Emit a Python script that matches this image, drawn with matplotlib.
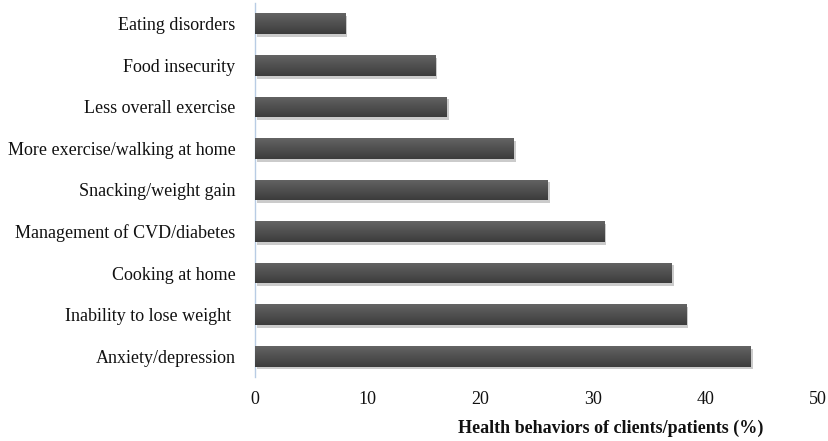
import matplotlib
matplotlib.use("Agg")
import matplotlib.pyplot as plt
import matplotlib.patheffects as pe
from matplotlib.colors import LinearSegmentedColormap
import numpy as np

categories = [
    "Eating disorders",
    "Food insecurity",
    "Less overall exercise",
    "More exercise/walking at home",
    "Snacking/weight gain",
    "Management of CVD/diabetes",
    "Cooking at home",
    "Inability to lose weight ",
    "Anxiety/depression",
]
percentages = [8, 16, 17, 23, 26, 31, 37, 38.3, 44]
x_ticks = [0, 10, 20, 30, 40, 50]

plt.rcParams["font.family"] = ["Liberation Serif", "DejaVu Serif"]

fig = plt.figure(figsize=(8.29, 4.41), dpi=100)
ax = fig.add_axes([255 / 829, 1 - 377 / 441, (818 - 255) / 829, 374 / 441])

ypos = list(range(len(categories)))
bars = ax.barh(ypos, percentages, height=0.5, color="#4a4a4a", zorder=2)

# soft shading like the office-chart bars: lighter top, darker bottom
shade = LinearSegmentedColormap.from_list("shade", ["#646464", "#505050", "#3c3c3c"])
grad = np.linspace(0, 1, 64).reshape(-1, 1)
for b in bars:
    b.set_path_effects([
        pe.SimplePatchShadow(offset=(1.5, -2), shadow_rgbFace="#8c8c8c", alpha=0.45),
        pe.Normal(),
    ])
    y0 = b.get_y()
    h = b.get_height()
    im = ax.imshow(grad, extent=(0, b.get_width(), y0 + h, y0), origin="upper",
                   aspect="auto", cmap=shade, zorder=3, interpolation="bilinear")
    im.set_clip_path(b)

ax.set_ylim(len(categories) - 0.5, -0.5)
ax.set_xlim(0, 50)
ax.set_yticks(ypos)
ax.set_yticklabels(categories, fontsize=13, color="#111111")
ax.set_xticks(x_ticks)
ax.set_xticklabels([str(t) for t in x_ticks], fontsize=13, color="#111111")
ax.tick_params(axis="both", length=0)
ax.tick_params(axis="y", pad=14)
ax.tick_params(axis="x", pad=10)

for side in ["top", "right", "bottom"]:
    ax.spines[side].set_visible(False)
ax.spines["left"].set_color("#b8cce4")
ax.spines["left"].set_linewidth(1.0)

fig.text(611 / 829, 1 - 428 / 441, "Health behaviors of clients/patients (%)",
         ha="center", va="center", fontsize=13, fontweight="bold", color="#111111")

fig.savefig("out.png", dpi=100, facecolor="white")
